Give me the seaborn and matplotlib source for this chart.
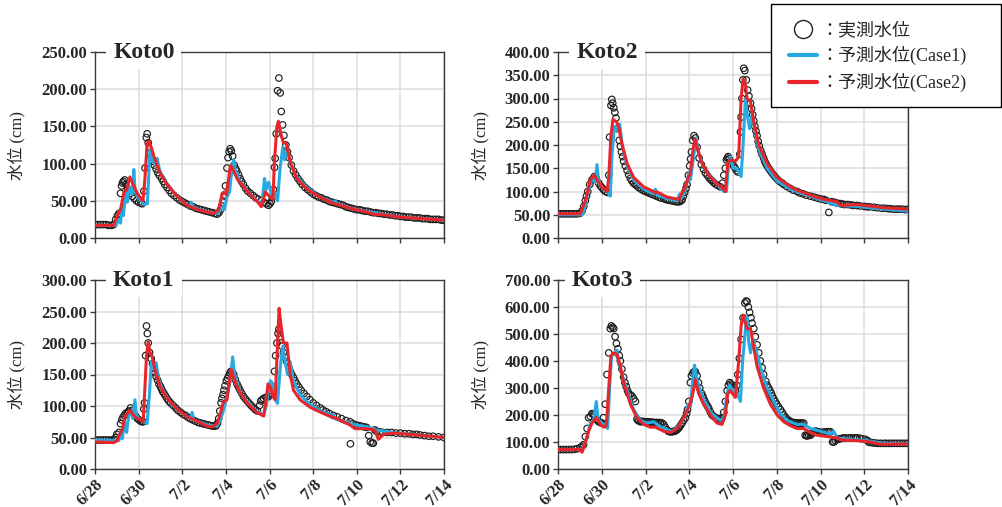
import matplotlib
matplotlib.use('Agg')
import matplotlib.pyplot as plt
from matplotlib.lines import Line2D
from matplotlib.patches import Rectangle
import seaborn as sns
import pandas as pd

sns.set_style('white')
plt.rcParams['font.family'] = ['Liberation Serif', 'Noto Sans CJK JP']

# days since 6/28 00:00, water level (cm)
date_labels = ['6/28', '6/30', '7/2', '7/4', '7/6', '7/8', '7/10', '7/12', '7/14']
date_ticks = [0, 2, 4, 6, 8, 10, 12, 14, 16]

k0_obs = [(0, 18), (0.125, 18), (0.25, 18), (0.375, 18), (0.5, 18), (0.625, 17), (0.75, 17), (0.85, 18),
          (0.95, 25), (1.03, 30), (1.1, 33), (1.17, 60), (1.22, 70), (1.26, 74), (1.3, 76), (1.36, 78), (1.42, 72),
          (1.5, 66), (1.6, 60), (1.7, 56), (1.8, 53), (1.9, 50), (2.0, 48), (2.1, 47), (2.16, 46), (2.24, 63),
          (2.29, 94), (2.35, 135), (2.39, 140), (2.44, 128), (2.5, 115), (2.58, 108), (2.65, 103), (2.72, 98),
          (2.8, 93), (2.875, 88), (2.95, 84), (3.05, 80), (3.125, 76), (3.2, 72), (3.3, 68), (3.4, 64), (3.5, 60),
          (3.625, 57), (3.75, 54), (3.875, 51), (4.0, 49), (4.125, 47), (4.25, 45), (4.375, 43), (4.5, 42),
          (4.625, 40), (4.75, 39), (4.875, 38), (5.0, 37), (5.125, 36), (5.25, 35), (5.375, 34), (5.5, 33),
          (5.6, 32), (5.68, 34), (5.75, 38), (5.81, 43), (5.87, 48), (5.93, 58), (5.98, 70), (6.05, 94),
          (6.1, 108), (6.15, 116), (6.2, 120), (6.25, 117), (6.31, 110), (6.38, 98), (6.45, 93), (6.5, 90),
          (6.58, 85), (6.65, 80), (6.72, 76), (6.8, 72), (6.9, 67), (7.0, 63), (7.125, 60), (7.25, 57),
          (7.375, 54), (7.5, 52), (7.625, 50), (7.75, 48), (7.85, 46), (7.95, 44), (8.02, 46), (8.08, 49),
          (8.13, 55), (8.18, 65), (8.23, 95), (8.26, 107), (8.31, 140), (8.37, 198), (8.43, 215), (8.49, 195),
          (8.54, 170), (8.6, 152), (8.66, 138), (8.75, 125), (8.82, 116), (8.9, 108), (9.0, 98), (9.1, 90),
          (9.2, 85), (9.3, 80), (9.4, 76), (9.5, 72), (9.625, 68), (9.75, 65), (9.875, 62), (10.0, 59),
          (10.125, 57), (10.25, 55), (10.375, 54), (10.5, 52), (10.625, 51), (10.75, 49), (10.875, 48), (11.0, 47),
          (11.125, 46), (11.25, 45), (11.375, 44), (11.5, 42), (11.625, 41), (11.75, 40), (11.875, 39), (12.0, 38),
          (12.125, 38), (12.25, 37), (12.375, 36), (12.5, 36), (12.625, 35), (12.75, 34), (12.875, 34), (13.0, 33),
          (13.125, 33), (13.25, 32), (13.375, 32), (13.5, 31), (13.625, 31), (13.75, 30), (13.875, 30), (14.0, 29),
          (14.125, 29), (14.25, 28), (14.375, 28), (14.5, 28), (14.625, 27), (14.75, 27), (14.875, 27), (15.0, 26),
          (15.125, 26), (15.25, 26), (15.375, 25), (15.5, 25), (15.625, 25), (15.75, 25), (15.875, 24), (16.0, 24)]
k0_c1 = [(0, 17), (0.95, 17), (1.1, 25), (1.17, 20), (1.25, 45), (1.3, 30), (1.4, 60), (1.48, 48), (1.55, 70),
         (1.7, 58), (1.78, 92), (1.84, 62), (1.95, 55), (2.1, 50), (2.27, 45), (2.4, 46), (2.52, 118), (2.62, 105),
         (2.73, 100), (2.85, 107), (2.97, 90), (3.3, 72), (3.77, 56), (4.3, 42), (4.42, 48), (4.5, 41), (5.14, 35),
         (5.6, 33), (5.87, 42), (5.93, 38), (6.05, 55), (6.17, 62), (6.23, 80), (6.36, 105), (6.43, 92), (6.58, 80),
         (6.97, 63), (7.5, 48), (7.65, 45), (7.77, 80), (7.85, 65), (7.96, 75), (8.11, 55), (8.26, 60), (8.37, 50),
         (8.49, 95), (8.61, 122), (8.69, 105), (8.8, 120), (8.95, 100), (9.25, 82), (9.71, 68), (10.3, 55),
         (10.95, 48), (11.02, 50), (11.1, 46), (11.7, 40), (12.76, 34), (14.0, 28), (15.0, 26), (16.0, 24)]
k0_c2 = [(0, 17), (0.85, 17), (0.95, 25), (1.17, 38), (1.33, 62), (1.45, 65), (1.6, 82), (1.7, 75), (1.94, 60),
         (2.12, 52), (2.2, 50), (2.29, 80), (2.39, 128), (2.47, 130), (2.58, 122), (2.7, 110), (3.0, 86),
         (3.3, 72), (3.77, 56), (4.2, 44), (4.45, 41), (4.83, 37), (5.44, 33), (5.67, 38), (5.82, 58), (5.93, 62),
         (6.02, 58), (6.13, 80), (6.2, 97), (6.28, 95), (6.51, 80), (6.97, 63), (7.5, 47), (7.62, 42), (7.73, 52),
         (7.8, 62), (7.96, 57), (8.16, 52), (8.22, 100), (8.34, 150), (8.41, 157), (8.52, 140), (8.64, 128),
         (8.77, 127), (8.95, 102), (9.25, 80), (9.71, 66), (10.3, 55), (10.9, 47), (11.7, 40), (12.45, 35),
         (12.9, 31), (13.0, 32), (14.0, 28), (15.0, 26), (16.0, 24)]

k2_obs = [(0, 52), (0.125, 52), (0.25, 52), (0.375, 52), (0.5, 52), (0.625, 52), (0.75, 52), (0.875, 52),
          (1.0, 53), (1.1, 58), (1.18, 68), (1.25, 80), (1.3, 90), (1.36, 100), (1.45, 115), (1.55, 125),
          (1.66, 132), (1.75, 128), (1.86, 118), (1.94, 112), (2.01, 108), (2.08, 104), (2.16, 100), (2.27, 98),
          (2.32, 135), (2.36, 217), (2.42, 285), (2.46, 298), (2.5, 290), (2.55, 280), (2.6, 270), (2.65, 258),
          (2.72, 235), (2.8, 210), (2.85, 197), (2.9, 185), (2.95, 175), (3.0, 165), (3.08, 155), (3.16, 145),
          (3.23, 136), (3.31, 128), (3.38, 123), (3.45, 118), (3.53, 115), (3.61, 112), (3.7, 108), (3.8, 105),
          (3.9, 102), (4.0, 100), (4.1, 98), (4.2, 96), (4.3, 94), (4.4, 92), (4.5, 90), (4.6, 88), (4.7, 86),
          (4.83, 85), (4.92, 83), (5.0, 82), (5.1, 81), (5.21, 80), (5.3, 79), (5.4, 78), (5.48, 78), (5.55, 78),
          (5.62, 80), (5.67, 82), (5.73, 90), (5.79, 98), (5.85, 106), (5.9, 115), (5.96, 135), (6.02, 155),
          (6.06, 170), (6.1, 185), (6.16, 210), (6.22, 220), (6.28, 215), (6.36, 195), (6.45, 172), (6.55, 158),
          (6.65, 148), (6.74, 140), (6.82, 135), (6.9, 130), (6.97, 126), (7.04, 123), (7.12, 119), (7.2, 116),
          (7.3, 113), (7.42, 110), (7.52, 118), (7.58, 135), (7.65, 150), (7.7, 168), (7.74, 172), (7.78, 175),
          (7.83, 170), (7.88, 165), (7.95, 160), (8.03, 155), (8.1, 150), (8.16, 145), (8.22, 142), (8.31, 180),
          (8.34, 228), (8.37, 260), (8.41, 300), (8.45, 340), (8.49, 365), (8.54, 360), (8.61, 340), (8.67, 318),
          (8.73, 305), (8.8, 290), (8.85, 278), (8.9, 265), (8.95, 252), (9.0, 240), (9.05, 230), (9.1, 220),
          (9.15, 208), (9.2, 198), (9.27, 188), (9.33, 180), (9.4, 172), (9.45, 165), (9.5, 160), (9.56, 155),
          (9.63, 150), (9.7, 145), (9.78, 140), (9.86, 135), (9.95, 130), (10.05, 125), (10.15, 121), (10.25, 118),
          (10.32, 115), (10.45, 111), (10.6, 107), (10.75, 103), (10.93, 100), (11.05, 97), (11.2, 95), (11.35, 92),
          (11.54, 90), (11.7, 88), (11.85, 86), (12.0, 84), (12.15, 83), (12.25, 81), (12.38, 55), (12.5, 78),
          (12.625, 77), (12.76, 75), (12.9, 74), (13.0, 73), (13.1, 72), (13.25, 72), (13.4, 71), (13.5, 70),
          (13.67, 70), (13.8, 69), (14.0, 68), (14.125, 67), (14.25, 67), (14.44, 66), (14.6, 65), (14.8, 64),
          (14.95, 64), (15.1, 63), (15.2, 63), (15.35, 62), (15.5, 62), (15.6, 62), (15.75, 62), (15.875, 61),
          (16.0, 62)]
k2_c1 = [(0, 50), (1.1, 50), (1.17, 55), (1.33, 90), (1.48, 115), (1.6, 130), (1.71, 120), (1.78, 158),
         (1.86, 120), (2.09, 105), (2.32, 95), (2.39, 90), (2.47, 180), (2.58, 240), (2.7, 230), (2.82, 245),
         (2.93, 200), (3.16, 155), (3.46, 125), (3.92, 105), (4.37, 95), (4.45, 105), (4.53, 92), (4.98, 85),
         (5.44, 80), (5.56, 95), (5.64, 85), (5.82, 105), (5.98, 140), (6.05, 125), (6.2, 175), (6.31, 215),
         (6.39, 190), (6.66, 150), (7.12, 125), (7.58, 100), (7.7, 100), (7.8, 160), (7.88, 175), (8.0, 150),
         (8.19, 150), (8.37, 132), (8.46, 200), (8.57, 300), (8.67, 260), (8.76, 235), (8.87, 265), (8.98, 240),
         (9.18, 190), (9.56, 150), (10.02, 122), (10.63, 105), (11.54, 90), (12.15, 80), (12.76, 70), (13.67, 68),
         (14.9, 62), (16.0, 58)]
k2_c2 = [(0, 52), (1.02, 52), (1.25, 80), (1.48, 125), (1.66, 135), (1.78, 125), (2.01, 110), (2.24, 100),
         (2.32, 130), (2.42, 220), (2.51, 255), (2.67, 250), (2.77, 240), (2.93, 200), (3.16, 160), (3.46, 130),
         (3.92, 110), (4.37, 100), (4.45, 97), (4.53, 99), (4.98, 88), (5.52, 83), (5.82, 110), (5.95, 130),
         (6.05, 138), (6.17, 190), (6.26, 213), (6.36, 195), (6.54, 165), (6.81, 140), (7.19, 120), (7.58, 105),
         (7.65, 100), (7.76, 160), (7.88, 168), (8.11, 165), (8.26, 175), (8.37, 300), (8.46, 342), (8.57, 330),
         (8.64, 300), (8.8, 293), (8.95, 250), (9.18, 200), (9.56, 160), (10.02, 130), (10.63, 110), (10.93, 103),
         (11.54, 92), (12.15, 83), (12.76, 78), (12.91, 70), (13.67, 72), (14.9, 65), (16.0, 62)]

k1_obs = [(0, 46), (0.125, 46), (0.25, 46), (0.375, 46), (0.5, 46), (0.625, 46), (0.75, 46), (0.875, 47),
          (0.95, 50), (1.0, 55), (1.1, 58), (1.17, 72), (1.23, 78), (1.28, 82), (1.34, 85), (1.4, 88), (1.48, 90),
          (1.55, 92), (1.63, 97), (1.7, 93), (1.78, 88), (1.86, 84), (1.94, 80), (2.02, 78), (2.09, 76), (2.15, 75),
          (2.21, 75), (2.24, 95), (2.27, 105), (2.32, 180), (2.36, 227), (2.4, 215), (2.44, 200), (2.5, 185),
          (2.58, 175), (2.64, 167), (2.7, 160), (2.75, 153), (2.8, 147), (2.87, 141), (2.93, 135), (3.0, 131),
          (3.05, 127), (3.1, 123), (3.16, 120), (3.23, 116), (3.3, 112), (3.38, 108), (3.46, 105), (3.58, 101),
          (3.7, 97), (3.8, 93), (3.92, 90), (4.03, 87), (4.15, 85), (4.26, 82), (4.37, 80), (4.48, 78), (4.6, 76),
          (4.72, 74), (4.83, 73), (4.94, 72), (5.05, 71), (5.17, 70), (5.29, 69), (5.4, 68), (5.52, 68), (5.57, 70),
          (5.62, 73), (5.67, 80), (5.72, 92), (5.78, 105), (5.82, 112), (5.87, 118), (5.91, 125), (5.96, 132),
          (6.02, 140), (6.08, 144), (6.13, 148), (6.18, 152), (6.23, 155), (6.3, 153), (6.36, 150), (6.43, 142),
          (6.51, 135), (6.58, 130), (6.65, 125), (6.73, 120), (6.81, 115), (6.9, 111), (7.0, 107), (7.1, 103),
          (7.18, 100), (7.27, 97), (7.36, 94), (7.45, 92), (7.55, 101), (7.6, 108), (7.66, 110), (7.73, 112),
          (7.85, 114), (7.96, 115), (8.04, 118), (8.11, 120), (8.19, 130), (8.23, 155), (8.28, 180), (8.34, 200),
          (8.39, 215), (8.43, 222), (8.49, 210), (8.57, 195), (8.64, 185), (8.72, 177), (8.8, 170), (8.88, 162),
          (8.95, 155), (9.02, 150), (9.1, 145), (9.17, 140), (9.25, 135), (9.35, 130), (9.45, 125), (9.58, 120),
          (9.71, 115), (9.85, 110), (10.0, 105), (10.15, 101), (10.32, 97), (10.45, 94), (10.6, 91), (10.75, 88),
          (10.93, 85), (11.1, 83), (11.3, 80), (11.5, 77), (11.69, 75), (11.71, 40), (11.82, 72), (11.95, 70),
          (12.08, 69), (12.2, 68), (12.33, 67), (12.45, 66), (12.55, 53), (12.62, 43), (12.7, 41), (12.76, 41),
          (12.83, 62), (12.9, 60), (13.05, 59), (13.2, 58), (13.4, 58), (13.6, 58), (13.8, 57), (14.0, 57),
          (14.2, 56), (14.4, 56), (14.57, 55), (14.74, 55), (14.9, 54), (15.1, 53), (15.3, 52), (15.5, 52),
          (15.75, 51), (16.0, 50)]
k1_c1 = [(0, 46), (1.1, 45), (1.17, 60), (1.25, 48), (1.36, 75), (1.45, 58), (1.55, 85), (1.66, 90), (1.74, 80),
         (1.83, 110), (1.9, 85), (2.09, 78), (2.39, 72), (2.5, 120), (2.58, 170), (2.7, 160), (2.81, 168),
         (2.93, 140), (3.16, 122), (3.46, 105), (3.92, 90), (4.37, 80), (4.45, 90), (4.53, 78), (5.14, 70),
         (5.6, 68), (5.75, 78), (5.91, 95), (6.05, 115), (6.2, 140), (6.31, 178), (6.4, 150), (6.66, 120),
         (7.27, 96), (7.73, 85), (7.85, 100), (7.93, 120), (8.04, 140), (8.11, 138), (8.26, 110), (8.37, 104),
         (8.49, 160), (8.61, 195), (8.72, 170), (8.83, 150), (8.95, 170), (9.1, 140), (9.4, 118), (9.86, 102),
         (10.47, 90), (10.93, 85), (11.0, 80), (11.69, 72), (12.45, 67), (12.91, 62), (13.67, 58), (14.74, 54),
         (16.0, 50)]
k1_c2 = [(0, 43), (0.87, 42), (1.02, 45), (1.13, 55), (1.25, 62), (1.36, 82), (1.48, 88), (1.6, 93), (1.71, 88),
         (1.86, 82), (2.09, 78), (2.21, 75), (2.29, 130), (2.36, 180), (2.44, 202), (2.52, 185), (2.62, 178),
         (2.77, 155), (3.0, 130), (3.31, 112), (3.77, 95), (4.22, 83), (4.68, 76), (5.14, 68), (5.37, 67),
         (5.6, 72), (5.75, 88), (5.87, 105), (6.05, 110), (6.17, 140), (6.25, 158), (6.36, 145), (6.59, 125),
         (6.97, 105), (7.42, 90), (7.73, 84), (7.85, 110), (7.93, 135), (8.04, 130), (8.16, 115), (8.26, 110),
         (8.34, 175), (8.44, 255), (8.52, 230), (8.64, 200), (8.8, 200), (8.95, 150), (9.1, 125), (9.4, 110),
         (9.86, 98), (10.47, 88), (11.08, 80), (11.69, 70), (11.92, 64), (12.45, 64), (12.83, 62), (12.99, 47),
         (13.22, 55), (13.67, 57), (14.74, 54), (16.0, 50)]

k3_obs = [(0, 72), (0.125, 72), (0.25, 72), (0.375, 72), (0.5, 72), (0.625, 72), (0.75, 73), (0.875, 75),
          (1.02, 80), (1.1, 84), (1.17, 90), (1.25, 120), (1.33, 150), (1.4, 190), (1.48, 195), (1.55, 205),
          (1.6, 203), (1.66, 200), (1.75, 185), (1.8, 180), (1.86, 175), (1.94, 172), (2.01, 170), (2.08, 190),
          (2.16, 240), (2.24, 350), (2.32, 430), (2.39, 520), (2.44, 530), (2.5, 525), (2.55, 520), (2.61, 490),
          (2.67, 465), (2.74, 445), (2.8, 420), (2.85, 400), (2.92, 370), (3.0, 340), (3.06, 320), (3.12, 305),
          (3.18, 290), (3.23, 280), (3.3, 275), (3.38, 270), (3.46, 260), (3.54, 250), (3.61, 185), (3.66, 180),
          (3.7, 178), (3.77, 175), (3.83, 176), (3.9, 176), (3.98, 175), (4.07, 175), (4.13, 174), (4.2, 174),
          (4.28, 173), (4.35, 173), (4.45, 172), (4.52, 172), (4.6, 172), (4.68, 172), (4.76, 170), (4.83, 165),
          (4.9, 155), (4.98, 145), (5.04, 140), (5.1, 138), (5.16, 138), (5.21, 138), (5.27, 139), (5.33, 140),
          (5.38, 142), (5.44, 145), (5.5, 150), (5.55, 155), (5.61, 162), (5.67, 170), (5.75, 180), (5.82, 190),
          (5.88, 205), (5.92, 220), (5.98, 250), (6.05, 320), (6.1, 345), (6.16, 355), (6.22, 360), (6.28, 360),
          (6.36, 345), (6.42, 320), (6.48, 300), (6.56, 280), (6.62, 270), (6.66, 260), (6.72, 250), (6.78, 240),
          (6.84, 232), (6.89, 225), (6.96, 212), (7.04, 200), (7.12, 195), (7.2, 190), (7.28, 187), (7.35, 185),
          (7.43, 187), (7.5, 190), (7.58, 210), (7.65, 250), (7.73, 290), (7.79, 310), (7.85, 320), (7.9, 315),
          (7.96, 310), (8.04, 300), (8.11, 290), (8.17, 310), (8.22, 350), (8.29, 410), (8.37, 480), (8.46, 560),
          (8.54, 615), (8.6, 622), (8.64, 620), (8.7, 600), (8.76, 580), (8.82, 560), (8.87, 540), (8.95, 520),
          (9.02, 490), (9.1, 460), (9.18, 430), (9.25, 400), (9.33, 375), (9.4, 350), (9.5, 325), (9.56, 310),
          (9.63, 300), (9.69, 290), (9.75, 280), (9.8, 270), (9.86, 260), (9.93, 250), (10.0, 240), (10.08, 230),
          (10.17, 220), (10.25, 210), (10.32, 200), (10.4, 192), (10.45, 185), (10.55, 180), (10.63, 175),
          (10.7, 173), (10.8, 172), (10.88, 171), (10.95, 170), (11.02, 170), (11.08, 170), (11.15, 170),
          (11.23, 170), (11.3, 125), (11.35, 123), (11.39, 123), (11.46, 124), (11.54, 125), (11.6, 130),
          (11.65, 135), (11.7, 138), (11.77, 140), (11.83, 139), (11.9, 138), (12.0, 135), (12.1, 136), (12.2, 137),
          (12.3, 138), (12.38, 138), (12.45, 138), (12.55, 100), (12.61, 100), (12.68, 105), (12.76, 110),
          (12.83, 111), (12.9, 112), (13.0, 114), (13.06, 115), (13.15, 115), (13.3, 115), (13.4, 115), (13.5, 115),
          (13.6, 115), (13.67, 115), (13.8, 114), (13.9, 112), (14.05, 110), (14.15, 105), (14.2, 100), (14.28, 98),
          (14.4, 97), (14.5, 96), (14.625, 95), (14.75, 95), (14.9, 95), (15.0, 95), (15.125, 95), (15.25, 95),
          (15.375, 95), (15.5, 95), (15.625, 95), (15.75, 95), (15.875, 95), (16.0, 95)]
k3_c1 = [(0, 72), (1.1, 72), (1.17, 80), (1.33, 120), (1.48, 170), (1.63, 180), (1.75, 250), (1.83, 185),
         (2.01, 170), (2.27, 150), (2.36, 300), (2.45, 420), (2.58, 425), (2.7, 440), (2.77, 390), (2.93, 350),
         (3.16, 290), (3.46, 220), (3.77, 180), (4.07, 170), (4.37, 175), (4.53, 165), (4.83, 150), (5.21, 140),
         (5.59, 165), (5.82, 200), (5.95, 240), (6.05, 230), (6.16, 330), (6.24, 385), (6.36, 330), (6.59, 270),
         (6.97, 210), (7.42, 180), (7.58, 190), (7.73, 280), (7.85, 310), (8.0, 290), (8.19, 280), (8.34, 250),
         (8.44, 400), (8.57, 520), (8.64, 560), (8.72, 470), (8.8, 430), (8.92, 480), (9.02, 450), (9.25, 380),
         (9.56, 300), (9.86, 250), (10.17, 205), (10.47, 180), (10.93, 165), (11.23, 165), (11.54, 150),
         (12.0, 140), (12.45, 130), (12.61, 140), (12.76, 115), (13.37, 110), (14.13, 105), (14.9, 95), (16.0, 92)]
k3_c2 = [(0, 72), (1.0, 72), (1.1, 62), (1.25, 100), (1.4, 140), (1.55, 170), (1.75, 190), (1.94, 165),
         (2.09, 155), (2.21, 160), (2.32, 300), (2.42, 420), (2.55, 430), (2.7, 425), (2.85, 380), (3.0, 320),
         (3.31, 240), (3.61, 190), (3.92, 165), (4.22, 155), (4.45, 155), (4.83, 140), (5.14, 135), (5.44, 150),
         (5.75, 190), (5.98, 230), (6.14, 270), (6.28, 330), (6.43, 280), (6.66, 240), (6.97, 200), (7.27, 170),
         (7.5, 165), (7.65, 200), (7.76, 280), (7.88, 290), (8.11, 265), (8.26, 400), (8.37, 530), (8.46, 570),
         (8.57, 540), (8.64, 520), (8.8, 520), (8.95, 450), (9.1, 380), (9.4, 300), (9.71, 240), (10.02, 200),
         (10.32, 175), (10.63, 160), (10.93, 150), (11.23, 150), (11.54, 135), (11.84, 125), (12.15, 122),
         (12.76, 115), (12.91, 108), (13.67, 105), (14.28, 100), (14.73, 92), (16.0, 92)]

BLUE = '#27aae1'
RED = '#e8252b'
W, H = 1002, 507


def to_df(pairs):
    return pd.DataFrame(pairs, columns=['day', 'level'])


def px_axes(fig, left, top, right, bottom):
    return fig.add_axes([left / W, 1 - bottom / H, (right - left) / W, (bottom - top) / H])


# name, obs, case1, case2, ymax, ystep, box (l, t, r, b), bottom row, title x, ylabel x
panels = [
    ('Koto0', k0_obs, k0_c1, k0_c2, 250, 50, (95, 52, 444, 238), False, 0.14, -0.2),
    ('Koto2', k2_obs, k2_c1, k2_c2, 400, 50, (558, 52, 908, 238), False, 0.14, -0.195),
    ('Koto1', k1_obs, k1_c1, k1_c2, 300, 50, (95, 280, 444, 469), True, 0.14, -0.2),
    ('Koto3', k3_obs, k3_c1, k3_c2, 700, 100, (558, 280, 908, 469), True, 0.126, -0.195),
]

fig = plt.figure(figsize=(W / 100, H / 100), dpi=100)

for name, obs, c1, c2, ymax, ystep, box, bottom_row, tx, lx in panels:
    ax = px_axes(fig, *box)
    sns.scatterplot(data=to_df(obs), x='day', y='level', ax=ax, marker='o', s=22,
                    facecolor='none', edgecolor='#1e1e1e', linewidth=0.85, zorder=2)
    sns.lineplot(data=to_df(c1), x='day', y='level', ax=ax, color=BLUE, lw=2.2,
                 estimator=None, zorder=3)
    sns.lineplot(data=to_df(c2), x='day', y='level', ax=ax, color=RED, lw=2.2,
                 estimator=None, zorder=4)
    ax.set_xlim(0, 16)
    ax.set_ylim(0, ymax)
    yt = list(range(0, ymax + 1, ystep))
    ax.set_yticks(yt, labels=[f'{v:.2f}' for v in yt], fontsize=12, fontweight='bold')
    if bottom_row:
        ax.set_xticks(date_ticks, labels=date_labels, fontsize=12, fontweight='bold',
                      rotation=45, ha='right', rotation_mode='anchor')
    else:
        ax.set_xticks(date_ticks, labels=[])
    ax.set_xlabel('')
    ax.set_ylabel('水位 (cm)', fontsize=12)
    ax.yaxis.set_label_coords(lx, 0.5)
    ax.grid(True, color='#dcdcdc', lw=1.1)
    ax.set_axisbelow(True)
    for s in ax.spines.values():
        s.set_color('#3a3a3a')
        s.set_linewidth(1.0)
    ax.tick_params(direction='out', length=3.5, width=1, color='#3a3a3a', pad=2,
                   bottom=True, left=True)
    ax.text(tx, 1.0, name, transform=ax.transAxes, ha='center', va='center',
            fontsize=17, fontweight='bold', family='Liberation Serif', zorder=10,
            bbox=dict(fc='white', ec='none', pad=5))

# legend box spans to the right edge
fig.patches.append(Rectangle((771 / W, 1 - 107 / H), (1001 - 771) / W, 103 / H,
                             transform=fig.transFigure, fc='white', ec='black', lw=1.0, zorder=4))
handles = [
    Line2D([], [], ls='none', marker='o', ms=13, mfc='none', mec='#222222', mew=1.0),
    Line2D([], [], color=BLUE, lw=3),
    Line2D([], [], color=RED, lw=3),
]
labels = ['：実測水位', '：予測水位(Case1)', '：予測水位(Case2)']
fig.legend(handles, labels, loc='upper left', bbox_to_anchor=(771 / W, 1 - 4 / H),
           frameon=False, fontsize=13, handlelength=1.55, handletextpad=0.2,
           borderpad=1.0, labelspacing=0.4, borderaxespad=0)

fig.savefig('out.png', dpi=100)
